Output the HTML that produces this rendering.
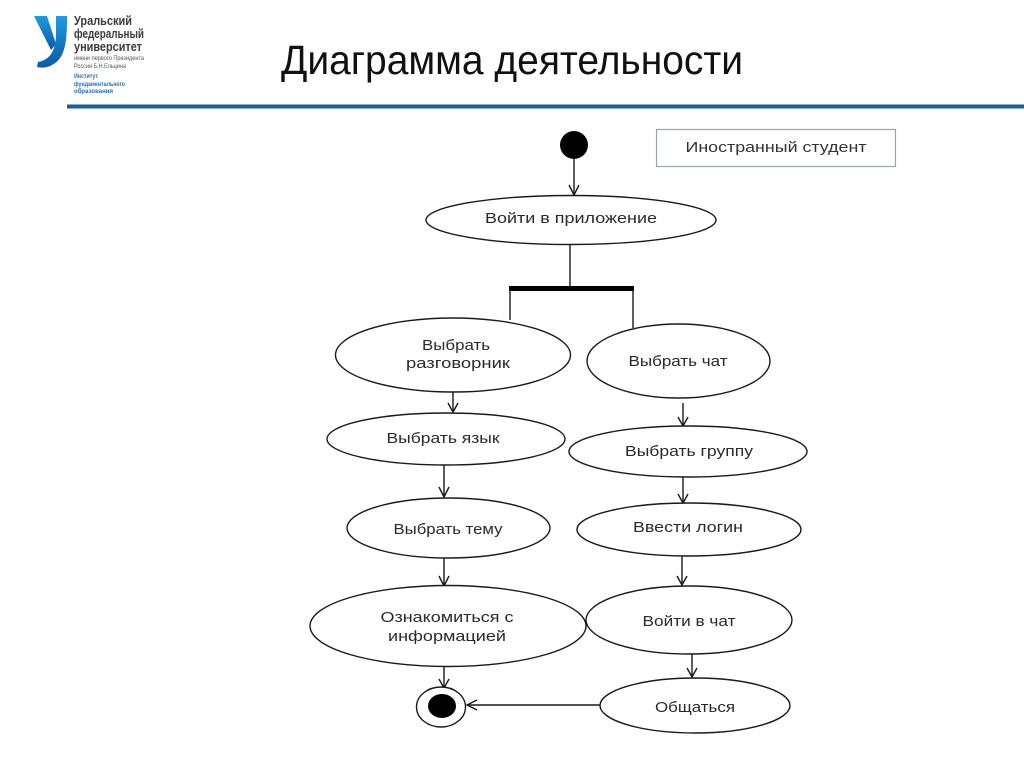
<!DOCTYPE html>
<html><head><meta charset="utf-8"><style>
html,body{margin:0;padding:0;background:#fff;}
svg{display:block;}
text{font-family:"Liberation Sans","DejaVu Sans",sans-serif;}
</style></head><body>
<svg width="1024" height="767" viewBox="0 0 1024 767" xmlns="http://www.w3.org/2000/svg">
<defs>
<linearGradient id="lg" x1="0" y1="0" x2="0" y2="1">
<stop offset="0" stop-color="#1f9be0"/><stop offset="1" stop-color="#0b5aa6"/>
</linearGradient>
</defs>
<rect width="1024" height="767" fill="#fff"/>
<!-- logo -->
<path d="M34,16 L47,16 L56,44 L51,50 Z" fill="url(#lg)"/>
<path d="M56,16 L67,16 C67,40 66,58 52,65 C47,68 41,68 37,67 L38,62 C50,60 56,50 56,34 Z" fill="url(#lg)"/>
<g fill="#3a3a3a" font-weight="bold" font-size="12.5">
<text x="74" y="25" textLength="58" lengthAdjust="spacingAndGlyphs">Уральский</text>
<text x="74" y="38" textLength="70" lengthAdjust="spacingAndGlyphs">федеральный</text>
<text x="74" y="51" textLength="68" lengthAdjust="spacingAndGlyphs">университет</text>
</g>
<g fill="#555" font-size="6">
<text x="74" y="60" textLength="70" lengthAdjust="spacingAndGlyphs">имени первого Президента</text>
<text x="74" y="68" textLength="52" lengthAdjust="spacingAndGlyphs">России Б.Н.Ельцина</text>
</g>
<g fill="#2a6fb0" font-size="6" font-weight="bold">
<text x="74" y="78" textLength="24" lengthAdjust="spacingAndGlyphs">Институт</text>
<text x="74" y="86" textLength="51" lengthAdjust="spacingAndGlyphs">фундаментального</text>
<text x="74" y="93" textLength="39" lengthAdjust="spacingAndGlyphs">образования</text>
</g>
<!-- header line -->
<rect x="67" y="104" width="957" height="5" fill="#7fb0d8"/>
<rect x="67" y="105" width="957" height="3" fill="#255c8e"/>
<!-- title -->
<text x="281" y="74" font-size="41" fill="#111" textLength="462" lengthAdjust="spacingAndGlyphs">Диаграмма деятельности</text>

<!-- legend box -->
<rect x="656.5" y="129.5" width="239" height="37" fill="#fff" stroke="#9aa3ad" stroke-width="1.2"/>
<text x="776" y="152" font-size="14.5" fill="#333" text-anchor="middle" textLength="181" lengthAdjust="spacingAndGlyphs">Иностранный студент</text>

<g stroke="#1a1a1a" stroke-width="1.4" fill="none">
<!-- start -->
<circle cx="574" cy="145" r="14" fill="#000" stroke="none"/>
<line x1="574" y1="159" x2="574" y2="195"/>
<polyline points="569,185 574,195 579,185"/>
<!-- Войти в приложение -->
<ellipse cx="571" cy="220" rx="145" ry="24.5" fill="#fff"/>
<line x1="570" y1="245" x2="570" y2="288"/>
<!-- fork -->
<rect x="509" y="286" width="125" height="5" fill="#000" stroke="none"/>
<line x1="510" y1="290" x2="510" y2="320"/>
<line x1="633" y1="290" x2="633" y2="328"/>
<!-- left column -->
<ellipse cx="453" cy="355" rx="117.5" ry="37" fill="#fff"/>
<line x1="453" y1="392" x2="453" y2="412"/>
<polyline points="448,403 453,412 458,403"/>
<ellipse cx="446" cy="439" rx="119" ry="26" fill="#fff"/>
<line x1="444" y1="465" x2="444" y2="497"/>
<polyline points="439,487 444,497 449,487"/>
<ellipse cx="448.5" cy="528" rx="101.5" ry="30" fill="#fff"/>
<line x1="444" y1="558" x2="444" y2="586"/>
<polyline points="439,576 444,586 449,576"/>
<ellipse cx="448" cy="626" rx="138" ry="40.5" fill="#fff"/>
<line x1="444" y1="666" x2="444" y2="688"/>
<polyline points="439,679 444,688 449,679"/>
<!-- end -->
<ellipse cx="441" cy="707" rx="24.5" ry="20" fill="#fff"/>
<ellipse cx="442" cy="706" rx="14" ry="12" fill="#000" stroke="none"/>
<line x1="600" y1="705" x2="467" y2="705"/>
<polyline points="477,700 467,705 477,710"/>
<!-- right column -->
<ellipse cx="678.5" cy="361" rx="91.5" ry="37" fill="#fff"/>
<line x1="683" y1="403" x2="683" y2="426"/>
<polyline points="678,417 683,426 688,417"/>
<ellipse cx="688" cy="451.5" rx="119" ry="25.5" fill="#fff"/>
<line x1="683" y1="477" x2="683" y2="503"/>
<polyline points="678,494 683,503 688,494"/>
<ellipse cx="689" cy="529.5" rx="112" ry="26.5" fill="#fff"/>
<line x1="682" y1="556" x2="682" y2="585"/>
<polyline points="677,576 682,585 687,576"/>
<ellipse cx="689" cy="620" rx="103" ry="34" fill="#fff"/>
<line x1="692" y1="654" x2="692" y2="677"/>
<polyline points="687,668 692,677 697,668"/>
<ellipse cx="695" cy="705.5" rx="95" ry="27.5" fill="#fff"/>
</g>

<g fill="#2a2a2a" font-size="14.5" text-anchor="middle">
<text x="571" y="223" textLength="172" lengthAdjust="spacingAndGlyphs">Войти в приложение</text>
<text x="456" y="350" textLength="68" lengthAdjust="spacingAndGlyphs">Выбрать</text>
<text x="458" y="368" textLength="104" lengthAdjust="spacingAndGlyphs">разговорник</text>
<text x="678" y="366" textLength="99" lengthAdjust="spacingAndGlyphs">Выбрать чат</text>
<text x="443" y="443" textLength="113" lengthAdjust="spacingAndGlyphs">Выбрать язык</text>
<text x="689" y="456" textLength="128" lengthAdjust="spacingAndGlyphs">Выбрать группу</text>
<text x="448" y="534" textLength="109" lengthAdjust="spacingAndGlyphs">Выбрать тему</text>
<text x="688" y="532" textLength="110" lengthAdjust="spacingAndGlyphs">Ввести логин</text>
<text x="447" y="622" textLength="133" lengthAdjust="spacingAndGlyphs">Ознакомиться с</text>
<text x="447" y="641" textLength="118" lengthAdjust="spacingAndGlyphs">информацией</text>
<text x="689" y="626" textLength="93" lengthAdjust="spacingAndGlyphs">Войти в чат</text>
<text x="695" y="712" textLength="80" lengthAdjust="spacingAndGlyphs">Общаться</text>
</g>
</svg>
</body></html>
